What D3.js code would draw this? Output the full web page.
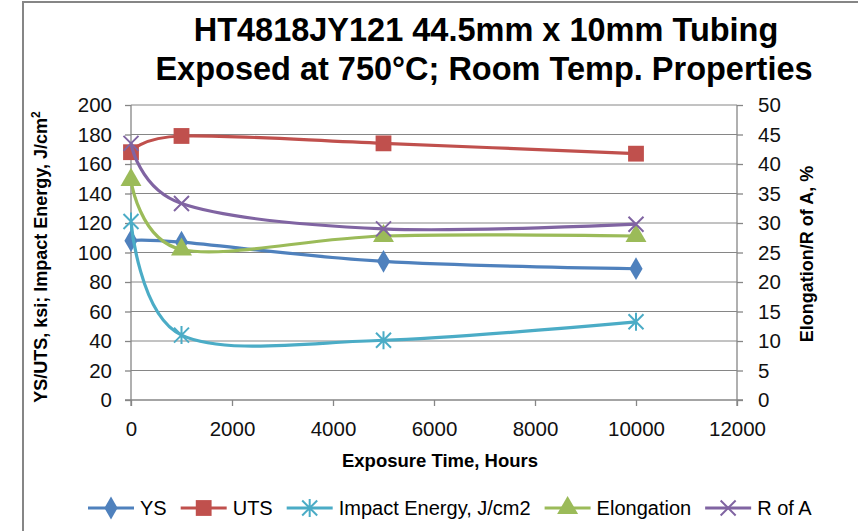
<!DOCTYPE html>
<html>
<head>
<meta charset="utf-8">
<script src="https://cdn.jsdelivr.net/npm/d3@7"></script>
<style>
  body { margin: 0; background: #fff; }
  svg { display: block; font-family: "Liberation Sans", Arial, sans-serif; }
</style>
</head>
<body>
<script>
(function() {

    var width = 858;
    var height = 531;

    //data
    const hours = [0, 1000, 5000, 10000];
    const ys = [108, 107, 94, 89];
    const uts = [168, 179, 174, 167];
    const impact = [121, 44, 40.5, 53];
    const elongation = [37.3, 25.5, 27.8, 27.8];
    const rOfA = [43.5, 33.3, 29, 29.8];

    const xTicks = [0, 2000, 4000, 6000, 8000, 10000, 12000];
    const leftTicks = [0, 20, 40, 60, 80, 100, 120, 140, 160, 180, 200];
    const rightTicks = [0, 5, 10, 15, 20, 25, 30, 35, 40, 45, 50];

    const series = [
        { name: "YS", values: ys, axis: "left", color: "#4F81BD", marker: "diamond" },
        { name: "UTS", values: uts, axis: "left", color: "#C0504D", marker: "square" },
        { name: "Impact Energy, J/cm2", values: impact, axis: "left", color: "#4BACC6", marker: "star" },
        { name: "Elongation", values: elongation, axis: "right", color: "#9BBB59", marker: "triangle" },
        { name: "R of A", values: rOfA, axis: "right", color: "#8064A2", marker: "cross" }
    ];

    const svg = d3.select("body")
      .append("svg")
      .attr("width", width)
      .attr("height", height);

    //chart border (runs off the right and bottom edge)
    svg.append("rect")
        .attr("x", 23).attr("y", 2)
        .attr("width", 900).attr("height", 600)
        .attr("fill", "none")
        .attr("stroke", "#868686")
        .attr("stroke-width", 2);

    //scales
    const x = d3.scaleLinear().domain([0, 12000]).range([131, 737]);
    const yL = d3.scaleLinear().domain([0, 200]).range([400, 105]);
    const yR = d3.scaleLinear().domain([0, 50]).range([400, 105]);

    //grid lines
    svg.append("g")
        .selectAll("line")
        .data(leftTicks.filter(d => d > 0))
        .join("line")
        .attr("x1", x(0)).attr("x2", x(12000))
        .attr("y1", d => yL(d)).attr("y2", d => yL(d))
        .attr("stroke", "#868686")
        .attr("stroke-width", 1);

    //axes
    const xAxis = svg.append("g")
        .attr("transform", `translate(0,${yL(0)})`)
        .call(d3.axisBottom(x).tickValues(xTicks).tickSize(6).tickPadding(15).tickFormat(d3.format("d")));
    const leftAxis = svg.append("g")
        .attr("transform", `translate(${x(0)},0)`)
        .call(d3.axisLeft(yL).tickValues(leftTicks).tickSize(6).tickPadding(13));
    const rightAxis = svg.append("g")
        .attr("transform", `translate(${x(12000)},0)`)
        .call(d3.axisRight(yR).tickValues(rightTicks).tickSize(6).tickPadding(15));

    [xAxis, leftAxis, rightAxis].forEach(a => {
        a.select(".domain").attr("stroke", "#868686").attr("stroke-width", 1.3);
        a.selectAll(".tick line").attr("stroke", "#868686").attr("stroke-width", 1.3);
        a.selectAll(".tick text")
            .attr("fill", "#111")
            .style("font-size", "20.5px");
    });
    leftAxis.select(".domain").attr("d", `M0,${yL(200)}V${yL(0) + 6}`);
    rightAxis.select(".domain").attr("d", `M0,${yR(50)}V${yR(0) + 6}`);
    xAxis.select(".domain").attr("d", `M${x(0) - 6},0H${x(12000) + 6}`);

    //smoothed lines like the spreadsheet
    const line = d3.line().curve(d3.curveCardinal.tension(0));

    const symbols = {
        diamond: d3.symbol().type(d3.symbolDiamond).size(150),
        square: d3.symbol().type(d3.symbolSquare).size(250),
        triangle: d3.symbol().type(d3.symbolTriangle).size(190)
    };

    function drawMarker(g, type, color) {
        if (type === "star" || type === "cross") {
            const r = 7.5;
            let d = `M${-r},${-r}L${r},${r}M${-r},${r}L${r},${-r}`;
            if (type === "star") d += `M0,${-r * 1.2}V${r * 1.2}`;
            g.append("path").attr("d", d)
                .attr("stroke", color).attr("stroke-width", 2).attr("fill", "none");
        } else {
            g.append("path").attr("d", symbols[type]())
                .attr("fill", color);
        }
    }

    series.forEach(s => {
        const y = s.axis === "left" ? yL : yR;
        const pts = hours.map((h, i) => [x(h), y(s.values[i])]);
        svg.append("path")
            .attr("d", line(pts))
            .attr("fill", "none")
            .attr("stroke", s.color)
            .attr("stroke-width", 3.2);
        pts.forEach(p => {
            const g = svg.append("g").attr("transform", `translate(${p[0]},${p[1]})`);
            drawMarker(g, s.marker, s.color);
        });
    });

    //title
    const title = svg.append("text")
        .attr("text-anchor", "middle")
        .style("font-size", "32.5px")
        .style("font-weight", "bold");
    title.append("tspan").attr("x", 486).attr("y", 41).text("HT4818JY121 44.5mm x 10mm Tubing");
    title.append("tspan").attr("x", 484).attr("y", 80).text("Exposed at 750°C; Room Temp. Properties");

    //axis titles
    svg.append("text")
        .attr("x", 440).attr("y", 467)
        .attr("text-anchor", "middle")
        .style("font-size", "18.5px")
        .style("font-weight", "bold")
        .text("Exposure Time, Hours");

    const leftTitle = svg.append("text")
        .attr("transform", "translate(47,257) rotate(-90)")
        .attr("text-anchor", "middle")
        .style("font-size", "18px")
        .style("font-weight", "bold");
    leftTitle.append("tspan").text("YS/UTS, ksi; Impact Energy, J/cm");
    leftTitle.append("tspan").attr("dy", -7).style("font-size", "12px").text("2");

    svg.append("text")
        .attr("transform", "translate(813,254) rotate(-90)")
        .attr("text-anchor", "middle")
        .style("font-size", "18px")
        .style("font-weight", "bold")
        .text("Elongation/R of A, %");

    //legend
    const legend = svg.append("g").attr("transform", "translate(88,508)");
    let lx = 0;
    series.forEach(s => {
        const item = legend.append("g").attr("transform", `translate(${lx},0)`);
        item.append("line")
            .attr("x1", 0).attr("x2", 46)
            .attr("stroke", s.color).attr("stroke-width", 3.2);
        drawMarker(item.append("g").attr("transform", "translate(23,0)"), s.marker, s.color);
        const t = item.append("text")
            .attr("x", 52).attr("dy", "0.35em")
            .style("font-size", "20px")
            .text(s.name);
        lx += 52 + t.node().getComputedTextLength() + 14;
    });

})();
</script>
</body>
</html>
